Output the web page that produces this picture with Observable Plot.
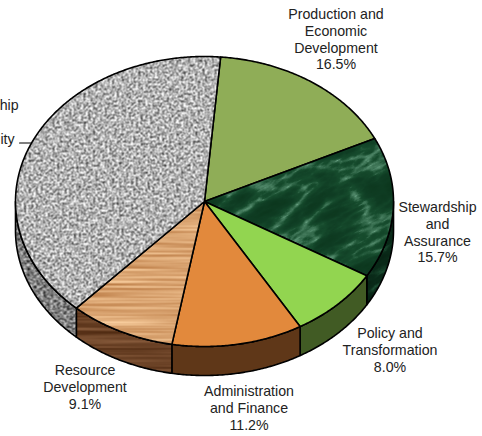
<!DOCTYPE html>
<html>
<head>
<meta charset="utf-8">
<script src="https://cdn.jsdelivr.net/npm/d3@7"></script>
<script src="https://cdn.jsdelivr.net/npm/@observablehq/plot@0.6"></script>
<style>
html,body{margin:0;padding:0;background:#fff}
svg{display:block}
</style>
</head>
<body>
<div id="chart"></div>
<script>
// Data, clockwise from the pie's first slice
const categories = ["Production and\nEconomic\nDevelopment","Stewardship\nand\nAssurance","Policy and\nTransformation","Administration\nand Finance","Resource\nDevelopment","Leadership\nand\nCapability"];
const shares = [16.5, 15.7, 8.0, 11.2, 9.1, 39.5];
const percentLabels = ["16.5%","15.7%","8.0%","11.2%","9.1%",""];

// Look
const startAngle = 4.9;
const depth = 0.2;
const topFills = ["#8fad57","url(#marble)","#92d550","#e2893c","url(#wood)","url(#granite)"];
const sideFills = ["#5c7036","url(#marbleSide)","#415b24","#5f3718","url(#woodSide)","url(#graniteSide)"];
const labelTops = [[335.5,7],[437,200],[389.5,326],[248.5,384],[84.5,363],[-17,98]];

const rad = d => d * Math.PI / 180;
const pt = (a, drop = 0) => ({x: Math.sin(rad(a)), y: Math.cos(rad(a)) - drop});
const arc = (a0, a1, drop = 0) => {
  const n = Math.max(2, Math.ceil(Math.abs(a1 - a0) * 2));
  return d3.range(n + 1).map(i => pt(a0 + (a1 - a0) * i / n, drop));
};

let acc = startAngle;
const slices = shares.map((s, i) => {
  const a0 = acc, a1 = acc + s * 3.6;
  acc = a1;
  return {i, a0, a1, mid: (a0 + a1) / 2};
});

const topShape = s => [{x: 0, y: 0}, ...arc(s.a0, s.a1)];
const sideShape = s => {
  let lo = Math.max(s.a0, 90), hi = Math.min(s.a1, 270);
  if (hi <= lo) return null;
  return [...arc(lo, hi), ...arc(hi, lo, depth)];
};

const poly = (pts, fill, stroke) => Plot.line(pts, {
  x: "x", y: "y", curve: "linear-closed", fill,
  stroke: stroke ? "#000" : "none", strokeWidth: 1.6, strokeLinejoin: "round"
});

function noise(id, type, freq, oct, seed, matrix, blur, extra = "") {
  return `<filter id="f-${id}" filterUnits="userSpaceOnUse" x="0" y="0" width="900" height="900" color-interpolation-filters="sRGB">
    <feTurbulence type="${type}" baseFrequency="${freq}" numOctaves="${oct}" seed="${seed}"/>
    <feColorMatrix type="matrix" values="${matrix}"/>
    ${extra}
    <feGaussianBlur stdDeviation="${blur}"/>
  </filter>
  <pattern id="${id}" patternUnits="userSpaceOnUse" width="900" height="900" ${id.startsWith("marble") ? 'patternTransform="rotate(-28)"' : ""}>
    <rect width="900" height="900" filter="url(#f-${id})"/>
  </pattern>`;
}
const gray = (k, m) => { const o = m - 0.5 * k; return `${k} 0 0 0 ${o} ${k} 0 0 0 ${o} ${k} 0 0 0 ${o} 0 0 0 0 1`; };
const tint = (r, g, b, k) => `${k[0]} 0 0 0 ${r - .5 * k[0]} ${k[1]} 0 0 0 ${g - .5 * k[1]} ${k[2]} 0 0 0 ${b - .5 * k[2]} 0 0 0 0 1`;
const oneChannel = "1 0 0 0 0 1 0 0 0 0 1 0 0 0 0 0 0 0 0 1";
const table = (r, g, b) => `<feComponentTransfer><feFuncR type="table" tableValues="${r}"/><feFuncG type="table" tableValues="${g}"/><feFuncB type="table" tableValues="${b}"/></feComponentTransfer>`;

const defsMark = () => {
  const g = document.createElementNS("http://www.w3.org/2000/svg", "g");
  g.innerHTML = `<defs>
    ${noise("granite", "fractalNoise", 0.42, 3, 4, gray(1.5, 0.7), 0.6)}
    ${noise("graniteSide", "fractalNoise", "0.3 0.5", 3, 9, gray(1.3, 0.5), 0.6)}
    ${noise("wood", "fractalNoise", "0.006 0.42", 3, 3, tint(0.85, 0.64, 0.44, [0.45, 0.6, 0.65]), 0.45)}
    ${noise("woodSide", "fractalNoise", "0.006 0.42", 3, 7, tint(0.42, 0.26, 0.15, [0.4, 0.35, 0.3]), 0.45)}
    ${noise("marble", "turbulence", "0.018 0.05", 5, 8, oneChannel, 0.5, table("0.4 0.09 0.06 0.05 0.05", "0.62 0.3 0.24 0.22 0.2", "0.5 0.18 0.14 0.12 0.11"))}
    ${noise("marbleSide", "turbulence", "0.018 0.05", 5, 5, oneChannel, 0.5, table("0.14 0.04 0.03 0.02 0.02", "0.36 0.17 0.14 0.12 0.11", "0.24 0.1 0.08 0.07 0.06"))}
  </defs>`;
  return g;
};

const sideMarks = slices.flatMap(s => {
  const shape = sideShape(s);
  return shape ? [poly(shape, sideFills[s.i], true)] : [];
});
const topMarks = slices.map(s => poly(topShape(s), topFills[s.i], true));

const labelMarks = slices.map(s => Plot.text([[categories[s.i], percentLabels[s.i]].filter(Boolean).join("\n")], {
  text: d => d, frameAnchor: "top-left", textAnchor: "middle", lineAnchor: "top",
  dx: labelTops[s.i][0], dy: labelTops[s.i][1],
  lineHeight: 1.17, fontSize: 14.2, fontFamily: "'Liberation Sans', Arial, sans-serif", fill: "#222"
}));

// Leader line of the largest slice, leaving the rim at its mid-angle
const big = slices[slices.length - 1];
const leaderStart = pt(big.mid);
const leader = Plot.line([leaderStart, leaderStart], {
  x: "x", y: "y", stroke: "#000", strokeWidth: 1.2,
  render: (index, scales, values, dims, ctx, next) => {
    const g = next(index, scales, values, dims, ctx);
    const x = values.x[0], y = values.y[0];
    g.querySelector("path").setAttribute("d", `M${x},${y}H${x - 12}`);
    return g;
  }
});

const chart = Plot.plot({
  width: 482, height: 436,
  margin: 0,
  x: {axis: null, domain: [-1, 1], range: [15, 393]},
  y: {axis: null, domain: [1, -1], range: [56, 346]},
  style: {background: "#fff", overflow: "hidden"},
  marks: [defsMark, ...sideMarks, ...topMarks, leader, ...labelMarks]
});
document.getElementById("chart").appendChild(chart);
</script>
</body>
</html>
